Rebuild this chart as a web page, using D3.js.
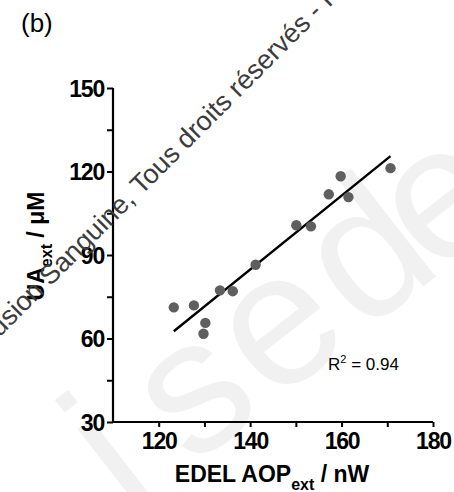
<!DOCTYPE html>
<html>
<head>
<meta charset="utf-8">
<script src="https://cdn.jsdelivr.net/npm/d3@7/dist/d3.min.js"></script>
<style>
  html, body { margin: 0; padding: 0; background: #fff; }
  svg { display: block; font-family: "Liberation Sans", Arial, Helvetica, sans-serif; }
</style>
</head>
<body>
<svg id="chart" width="454" height="492"></svg>
<script>
// EDEL AOP (nW) vs uric acid (µM), extracellular measurements
const aopValues = [123.3, 127.7, 130.2, 129.8, 133.4, 136.2, 141.2, 150.1, 153.3, 157.2, 159.8, 161.5, 170.7];
const uaValues  = [71.2, 71.9, 65.6, 61.7, 77.3, 77.0, 86.5, 100.7, 100.3, 111.8, 118.3, 110.8, 121.2];

const xTicks = [120, 130, 140, 150, 160, 170, 180];
const xTickLabels = [120, 140, 160, 180];
const yTicks = [30, 45, 60, 75, 90, 105, 120, 135, 150];
const yTickLabels = [30, 60, 90, 120, 150];

const svg = d3.select("#chart");

// faint background stamp
svg.append("text")
  .attr("transform", "translate(117,526) rotate(-38)")
  .attr("font-size", 190)
  .attr("fill", "#f1f1f1")
  .attr("dx", "16 37 7 -44 0 -14")
  .text("ise de");

const x = d3.scaleLinear().domain([110, 180]).range([113, 433]);
const y = d3.scaleLinear().domain([30, 150]).range([422, 88]);

// least-squares fit
const n = aopValues.length;
const mx = d3.mean(aopValues), my = d3.mean(uaValues);
let sxy = 0, sxx = 0, syy = 0;
for (let i = 0; i < n; i++) {
  const dx = aopValues[i] - mx, dy = uaValues[i] - my;
  sxy += dx * dy; sxx += dx * dx; syy += dy * dy;
}
const slope = sxy / sxx, intercept = my - slope * mx;
const r2 = (sxy * sxy) / (sxx * syy);

// axes
const xAxis = d3.axisBottom(x).tickValues(xTicks).tickSize(5)
  .tickFormat(d => xTickLabels.includes(d) ? d : "");
const yAxis = d3.axisLeft(y).tickValues(yTicks).tickSize(6)
  .tickFormat(d => yTickLabels.includes(d) ? d : "");

const gx = svg.append("g").attr("transform", `translate(0,${y(30)})`).call(xAxis);
const gy = svg.append("g").attr("transform", `translate(${x(110)},0)`).call(yAxis);

[gx, gy].forEach(g => {
  g.select(".domain").attr("stroke", "#000").attr("stroke-width", 2.2);
  g.selectAll(".tick line").attr("stroke", "#000").attr("stroke-width", 2);
  g.selectAll(".tick text").attr("fill", "#000").attr("font-size", 23).attr("font-weight", "bold")
    .attr("letter-spacing", "-1.2px")
    .attr("font-family", "Liberation Sans, Arial, sans-serif");
});
gx.select(".domain").attr("d", `M${x(110)},0H${x(180)}`);
gy.select(".domain").attr("d", `M0,${y(30)}V${y(150)}`);
gx.selectAll(".tick text").attr("y", 10).attr("dy", "0.75em");
gy.selectAll(".tick text").attr("x", -9).attr("dy", "0.36em");

// regression line
const x0 = d3.min(aopValues), x1 = d3.max(aopValues);
svg.append("line")
  .attr("x1", x(x0)).attr("y1", y(intercept + slope * x0))
  .attr("x2", x(x1)).attr("y2", y(intercept + slope * x1))
  .attr("stroke", "#000").attr("stroke-width", 2.4);

// points
svg.append("g").selectAll("circle")
  .data(aopValues.map((v, i) => [v, uaValues[i]]))
  .join("circle")
  .attr("cx", d => x(d[0])).attr("cy", d => y(d[1]))
  .attr("r", 5.2).attr("fill", "#5f5f5f");

// R² label
const rt = svg.append("text").attr("x", 328).attr("y", 370).attr("font-size", 17).attr("fill", "#000");
rt.append("tspan").text("R");
rt.append("tspan").attr("font-size", 11).attr("dy", -7).text("2");
rt.append("tspan").attr("dy", 7).text(" = " + r2.toFixed(2));

// axis titles
const xt = svg.append("text").attr("x", 272).attr("y", 482).attr("text-anchor", "middle")
  .attr("font-size", 23).attr("font-weight", "bold").attr("fill", "#000");
xt.append("tspan").text("EDEL AOP");
xt.append("tspan").attr("font-size", 16).attr("dy", 8).text("ext");
xt.append("tspan").attr("dy", -8).text(" / nW");

const yt = svg.append("text").attr("transform", "translate(44,246) rotate(-90)").attr("text-anchor", "middle")
  .attr("font-size", 23).attr("font-weight", "bold").attr("fill", "#000");
yt.append("tspan").text("UA");
yt.append("tspan").attr("font-size", 16).attr("dy", 8).text("ext");
yt.append("tspan").attr("dy", -8).text(" / μM");

// panel letter
svg.append("text").attr("x", 21).attr("y", 32).attr("font-size", 26).attr("fill", "#000").text("(b)");

// copyright overlay
svg.append("text")
  .attr("transform", "translate(-29,366) rotate(-45)")
  .attr("font-size", 27).attr("fill", "#3c3c3c")
  .text("Diffusion Sanguine, Tous droits réservés - Reproduction interdite");
</script>
</body>
</html>
